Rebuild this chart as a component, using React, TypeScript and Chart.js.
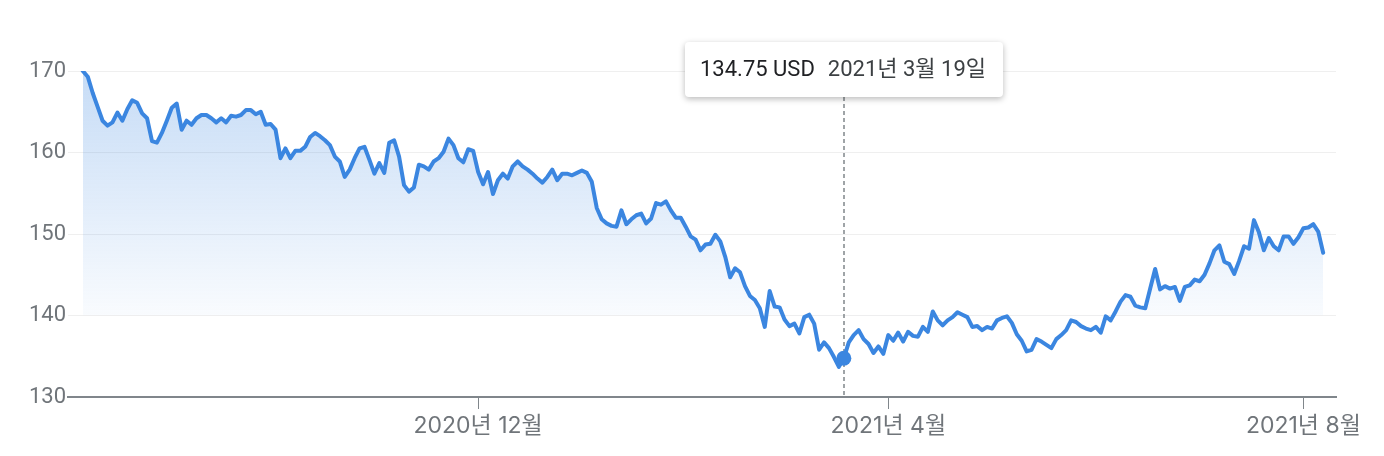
import { useEffect, useRef } from "react";
import { Chart, registerables } from "chart.js";

Chart.register(...registerables);

// Daily closing prices (USD), one per trading day
const PRICES: number[] = [
  170.0, 169.3, 167.3, 165.6, 163.9, 163.3, 163.7, 164.9, 163.9, 165.3,
  166.4, 166.1, 164.8, 164.2, 161.4, 161.2, 162.4, 163.9, 165.5, 166.0,
  162.8, 163.9, 163.4, 164.2, 164.6, 164.6, 164.2, 163.7, 164.2, 163.7,
  164.5, 164.4, 164.6, 165.2, 165.2, 164.7, 165.0, 163.4, 163.5, 162.8,
  159.3,
  160.5, 159.3, 160.2, 160.2, 160.7, 161.9, 162.4, 162.0, 161.5, 160.9,
  159.5, 158.9, 157.0, 157.9, 159.3, 160.5, 160.7, 159.1, 157.4, 158.7,
  157.5, 161.2, 161.5, 159.5, 156.0, 155.2, 155.7, 158.5, 158.3, 157.9,
  158.9, 159.3, 160.1, 161.7, 160.9, 159.3, 158.8, 160.4, 160.2, 157.6,
  156.1, 157.6, 154.9, 156.6, 157.4, 156.8, 158.3, 158.9, 158.3, 157.9,
  157.4, 156.8, 156.3, 157.0, 157.9, 156.6, 157.4, 157.4, 157.2, 157.5,
  157.8, 157.5, 156.4, 153.2, 151.8, 151.3, 151.0, 150.9, 152.9, 151.2,
  151.8, 152.3, 152.5, 151.3, 151.9, 153.8, 153.6, 154.0, 152.9, 152.0,
  152.0, 150.9, 149.7, 149.3, 148.0, 148.7, 148.8, 149.9, 149.1, 147.2,
  144.7, 145.8, 145.3, 143.6, 142.4, 141.9, 140.9, 138.6, 143.0, 141.1,
  141.0, 139.5, 138.7, 139.0, 137.8, 139.8, 140.1, 139.0, 135.8, 136.7,
  136.0, 134.9, 133.7, 134.75,
  136.7, 137.6, 138.2, 137.1, 136.5, 135.4, 136.2, 135.3, 137.6, 136.9,
  137.9, 136.8, 138.0, 137.5, 137.4, 138.6, 138.0, 140.5, 139.4, 138.8,
  139.4, 139.8, 140.4, 140.1, 139.8, 138.6, 138.7, 138.2, 138.6, 138.4,
  139.4, 139.7, 139.9, 139.1, 137.7, 136.9, 135.6, 135.8, 137.1, 136.8,
  136.4, 136.0, 137.1,
  137.6, 138.2, 139.4, 139.2, 138.7, 138.4, 138.2, 138.6, 137.9, 139.9,
  139.4, 140.5, 141.7, 142.5, 142.3, 141.2, 141.0, 140.9, 143.3, 145.7,
  143.2, 143.6, 143.3, 143.5, 141.8, 143.5, 143.7, 144.4, 144.2, 145.0,
  146.4, 148.0, 148.6, 146.6, 146.3, 145.1, 146.7, 148.5, 148.2, 151.7,
  150.2, 148.0, 149.5, 148.5, 148.0, 149.7, 149.7, 148.8, 149.6, 150.7,
  150.8, 151.2, 150.3, 147.7,
];

// X-axis ticks: trading-day index of the first session of each labelled month
const X_TICK_INDEX: number[] = [80, 163, 247];
const X_TICK_LABELS: string[] = ["2020년 12월", "2021년 4월", "2021년 8월"];
const Y_TICKS: number[] = [130, 140, 150, 160, 170];

const MARKER_INDEX = 154;
const MARKER_VALUE_LABEL = "134.75 USD";
const MARKER_DATE_LABEL = "2021년 3월 19일";
const FILL_BASE = 140;

const FONT_FAMILY = "Roboto, 'Noto Sans CJK KR', sans-serif";
const X_FONT_FAMILY = "Inter, 'Noto Sans CJK KR', sans-serif";
const BLUE = "#3b86e0";
const AXIS_GRAY = "#70757a";

export default function App() {
  const canvasRef = useRef<HTMLCanvasElement | null>(null);

  useEffect(() => {
    const canvas = canvasRef.current;
    if (!canvas) return;

    const TIP_H = 55;
    const TIP_OFFSET = 29;

    const markerPlugin = {
      id: "markerTooltip",
      beforeDatasetsDraw(chart: any) {
        const pt = chart.getDatasetMeta(0).data[MARKER_INDEX];
        if (!pt) return;
        const { ctx, chartArea } = chart;
        const x = Math.round(pt.x);
        ctx.save();
        ctx.setLineDash([4, 3]);
        ctx.strokeStyle = "#80868b";
        ctx.lineWidth = 1.5;
        ctx.beginPath();
        ctx.moveTo(x, chartArea.top - TIP_OFFSET + TIP_H);
        ctx.lineTo(x, chartArea.bottom);
        ctx.stroke();
        ctx.restore();
      },
      afterDraw(chart: any) {
        const pt = chart.getDatasetMeta(0).data[MARKER_INDEX];
        if (!pt) return;
        const { ctx, chartArea } = chart;
        ctx.save();
        ctx.font = `22px ${FONT_FAMILY}`;
        const w1 = ctx.measureText(MARKER_VALUE_LABEL).width;
        const w2 = ctx.measureText(MARKER_DATE_LABEL).width;
        const padL = 15;
        const padR = 17;
        const gap = 13;
        const w = padL + w1 + gap + w2 + padR;
        const h = TIP_H;
        const x = Math.round(pt.x - w / 2);
        const y = chartArea.top - TIP_OFFSET;
        ctx.shadowColor = "rgba(0,0,0,0.28)";
        ctx.shadowBlur = 6;
        ctx.shadowOffsetY = 2;
        ctx.fillStyle = "#ffffff";
        ctx.beginPath();
        ctx.roundRect(x, y, w, h, 4);
        ctx.fill();
        ctx.shadowColor = "transparent";
        ctx.shadowBlur = 0;
        ctx.shadowOffsetY = 0;
        ctx.textBaseline = "middle";
        ctx.textAlign = "left";
        ctx.fillStyle = "#202124";
        ctx.fillText(MARKER_VALUE_LABEL, x + padL, y + h / 2 + 1);
        ctx.fillStyle = "#3c4043";
        ctx.fillText(MARKER_DATE_LABEL, x + padL + w1 + gap, y + h / 2 + 1);
        ctx.restore();
      },
    };

    const chart = new Chart(canvas, {
      type: "line",
      data: {
        datasets: [
          {
            data: PRICES.map((v, i) => ({ x: i, y: v })),
            borderColor: BLUE,
            borderWidth: 4,
            borderJoinStyle: "round",
            borderCapStyle: "round",
            tension: 0,
            fill: { target: { value: FILL_BASE }, below: "rgba(0,0,0,0)" },
            backgroundColor: (c: any) => {
              const ch = c.chart;
              const ys = ch.scales && ch.scales.y;
              if (!ch.chartArea || !ys) return "rgba(59,134,224,0.1)";
              const g = ch.ctx.createLinearGradient(
                0,
                ys.getPixelForValue(170),
                0,
                ys.getPixelForValue(FILL_BASE)
              );
              g.addColorStop(0, "rgba(59,134,224,0.29)");
              g.addColorStop(1, "rgba(59,134,224,0.03)");
              return g;
            },
            pointRadius: (c: any) => (c.dataIndex === MARKER_INDEX ? 7.5 : 0),
            pointHoverRadius: (c: any) => (c.dataIndex === MARKER_INDEX ? 7.5 : 0),
            pointBackgroundColor: BLUE,
            pointBorderWidth: 0,
          } as any,
        ],
      },
      options: {
        animation: false,
        responsive: true,
        maintainAspectRatio: false,
        events: [],
        layout: { padding: { left: 0, right: 48, top: 71, bottom: 0 } },
        plugins: {
          legend: { display: false },
          tooltip: { enabled: false },
        },
        scales: {
          x: {
            type: "linear",
            min: -3,
            max: PRICES.length - 1 + 2.6,
            afterBuildTicks: (scale: any) => {
              scale.ticks = X_TICK_INDEX.map((v) => ({ value: v }));
            },
            afterFit: (scale: any) => {
              scale.height = 59;
            },
            ticks: {
              autoSkip: false,
              maxRotation: 0,
              padding: 3,
              color: AXIS_GRAY,
              font: { family: X_FONT_FAMILY, size: 23 },
              callback: (value: any) => {
                const k = X_TICK_INDEX.indexOf(Number(value));
                return k >= 0 ? X_TICK_LABELS[k] : "";
              },
            },
            grid: {
              drawOnChartArea: false,
              drawTicks: true,
              tickLength: 12,
              tickColor: "#80868b",
              tickWidth: 1,
            },
            border: { display: true, color: "#80868b", width: 2 },
          },
          y: {
            type: "linear",
            min: 130,
            max: 170,
            afterBuildTicks: (scale: any) => {
              scale.ticks = Y_TICKS.map((v) => ({ value: v }));
            },
            afterFit: (scale: any) => {
              scale.width = 68;
            },
            ticks: {
              padding: 2,
              color: AXIS_GRAY,
              font: { family: FONT_FAMILY, size: 22 },
              callback: (value: any) => String(value),
            },
            grid: {
              color: "#efefef",
              lineWidth: 1,
              drawTicks: false,
            },
            border: { display: false },
          },
        },
      } as any,
      plugins: [markerPlugin],
    });

    return () => {
      chart.destroy();
    };
  }, []);

  return (
    <div
      style={{
        position: "fixed",
        left: 0,
        top: 0,
        width: 1384,
        height: 456,
        background: "#ffffff",
      }}
    >
      <canvas ref={canvasRef} />
    </div>
  );
}
